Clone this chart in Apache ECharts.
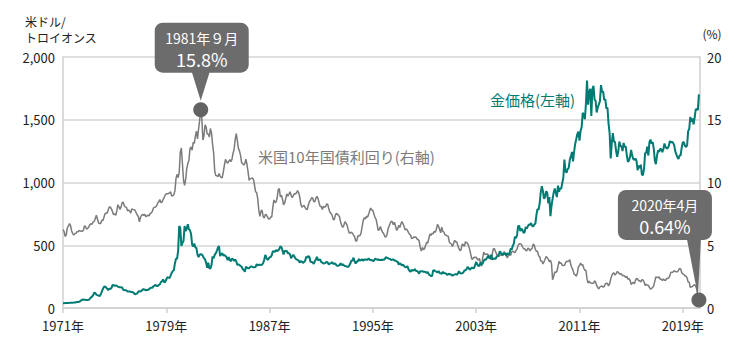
<!DOCTYPE html>
<html><head><meta charset="utf-8">
<script src="https://cdn.jsdelivr.net/npm/echarts@6/dist/echarts.min.js"></script>
<style>html,body{margin:0;padding:0;background:#fff}#c{width:740px;height:356px}</style>
</head><body><div id="c"></div>
<script>
// ---- data (monthly, Jan 1971 - Apr 2020) ----
const startYear = 1971;
const tickYears = [1971, 1979, 1987, 1995, 2003, 2011, 2019];
const leftTicks = [0, 500, 1000, 1500, 2000];
const rightTicks = [0, 5, 10, 15, 20];

// US 10-year Treasury yield (%)
const yield1970s = [
 6.24,6.11,5.70,5.83,6.39,6.52,6.73,6.58,6.14,5.93,5.81,5.93,
 5.95,6.08,6.07,6.19,6.13,6.11,6.11,6.21,6.55,6.48,6.28,6.36,
 6.46,6.64,6.71,6.67,6.85,6.90,7.13,7.40,7.09,6.79,6.73,6.74,
 6.99,6.96,7.21,7.51,7.58,7.54,7.81,8.04,8.04,7.90,7.68,7.43,
 7.50,7.39,7.73,8.23,8.06,7.86,8.06,8.40,8.43,8.14,8.05,8.00,
 7.74,7.79,7.73,7.56,7.90,7.86,7.83,7.77,7.59,7.41,7.29,6.87,
 7.21,7.39,7.46,7.37,7.46,7.28,7.33,7.40,7.34,7.52,7.58,7.69,
 7.96,8.03,8.04,8.15,8.35,8.46,8.64,8.41,8.42,8.64,8.81,9.01,
 9.10,9.10,9.12,9.18,9.25,8.91,8.95,9.03,9.33,10.30,10.65,10.39];
const yield1980s = [
 10.80,12.41,12.75,11.47,10.18,9.78,10.25,11.10,11.51,11.75,12.68,12.84,
 12.57,13.19,13.12,13.68,14.10,13.47,14.28,14.94,15.80,15.15,13.39,13.72,
 14.59,14.43,13.86,13.87,13.62,14.30,13.95,13.06,12.34,10.91,10.55,10.54,
 10.46,10.72,10.51,10.40,10.38,10.85,11.38,11.85,11.65,11.54,11.69,11.83,
 11.67,11.84,12.32,12.63,13.41,13.90,13.36,12.72,12.52,12.16,11.57,11.50,
 11.38,11.51,11.86,11.43,10.85,10.16,10.31,10.33,10.37,10.24,9.78,9.26,
 9.19,8.70,7.78,7.30,7.71,7.80,7.30,7.17,7.45,7.43,7.25,7.11,
 7.08,7.25,7.25,8.02,8.61,8.40,8.45,8.76,9.42,9.52,8.86,8.99,
 8.67,8.21,8.37,8.72,9.09,8.92,9.06,9.26,8.98,8.80,8.96,9.11,
 9.09,9.17,9.36,9.18,8.86,8.28,8.02,8.11,8.19,8.01,7.87,7.84];
const yield1990s = [
 8.21,8.47,8.59,8.79,8.76,8.48,8.47,8.75,8.89,8.72,8.39,8.08,
 8.09,7.85,8.11,8.04,8.07,8.28,8.27,7.90,7.65,7.53,7.42,7.09,
 7.03,7.34,7.54,7.48,7.39,7.26,6.84,6.59,6.42,6.59,6.87,6.77,
 6.60,6.26,5.98,5.97,6.04,5.96,5.81,5.68,5.36,5.33,5.72,5.77,
 5.75,5.97,6.48,6.97,7.18,7.10,7.30,7.24,7.46,7.74,7.96,7.81,
 7.78,7.47,7.20,7.06,6.63,6.17,6.28,6.49,6.20,6.04,5.93,5.71,
 5.65,5.81,6.27,6.51,6.74,6.91,6.87,6.64,6.83,6.53,6.20,6.30,
 6.58,6.42,6.69,6.89,6.71,6.49,6.22,6.30,6.21,6.03,5.88,5.81,
 5.54,5.57,5.65,5.64,5.65,5.50,5.46,5.34,4.81,4.53,4.83,4.65,
 4.72,5.00,5.23,5.18,5.54,5.90,5.79,5.94,5.92,6.11,6.03,6.28];
const yield2000s = [
 6.66,6.52,6.26,5.99,6.44,6.10,6.05,5.83,5.80,5.74,5.72,5.24,
 5.16,5.10,4.89,5.14,5.39,5.28,5.24,4.97,4.73,4.57,4.65,5.09,
 5.04,4.91,5.28,5.21,5.16,4.93,4.65,4.26,3.87,3.94,4.05,4.03,
 4.05,3.90,3.81,3.96,3.57,3.33,3.98,4.45,4.27,4.29,4.30,4.27,
 4.15,4.08,3.83,4.35,4.72,4.73,4.50,4.28,4.13,4.10,4.19,4.23,
 4.22,4.17,4.50,4.34,4.14,4.00,4.18,4.26,4.20,4.46,4.54,4.47,
 4.42,4.57,4.72,4.99,5.11,5.11,5.09,4.88,4.72,4.73,4.60,4.56,
 4.76,4.72,4.56,4.69,4.75,5.10,5.00,4.67,4.52,4.53,4.15,4.10,
 3.74,3.74,3.51,3.68,3.88,4.10,4.01,3.89,3.69,3.81,3.53,2.25,
 2.52,2.87,2.82,2.93,3.29,3.72,3.56,3.59,3.40,3.39,3.40,3.59];
const yield2010s = [
 3.73,3.69,3.73,3.85,3.42,3.20,3.01,2.70,2.65,2.54,2.76,3.29,
 3.39,3.58,3.41,3.46,3.17,3.00,3.00,2.30,1.98,2.15,2.01,1.98,
 1.97,1.97,2.17,2.05,1.80,1.62,1.53,1.68,1.72,1.75,1.65,1.72,
 1.91,1.98,1.96,1.76,1.93,2.30,2.58,2.74,2.81,2.62,2.72,2.90,
 2.86,2.71,2.72,2.71,2.56,2.60,2.54,2.42,2.53,2.30,2.33,2.21,
 1.88,1.98,2.04,1.94,2.20,2.36,2.32,2.17,2.17,2.07,2.26,2.24,
 2.09,1.78,1.89,1.81,1.81,1.64,1.50,1.56,1.63,1.76,2.14,2.49,
 2.43,2.42,2.48,2.30,2.30,2.19,2.32,2.21,2.20,2.36,2.35,2.40,
 2.58,2.86,2.84,2.87,2.98,2.91,2.89,2.89,3.00,3.15,3.12,2.83,
 2.71,2.68,2.57,2.53,2.40,2.07,2.06,1.63,1.70,1.71,1.81,1.86];
const yield2020s = [1.76,1.50,0.87,0.64];

// Gold price (USD / troy ounce)
const gold1970s = [
 37.9,38.7,38.9,39.0,40.5,40.1,41.0,42.7,42.0,42.5,42.9,43.5,
 45.7,48.3,48.3,49.0,54.6,62.1,65.7,67.0,65.5,64.9,62.9,63.9,
 65.1,74.2,84.4,90.5,102.0,122.5,120.2,106.8,103.0,100.1,94.8,106.7,
 129.0,150.2,168.4,172.2,163.4,154.1,143.0,154.6,151.8,158.8,181.7,183.8,
 176.3,179.6,178.2,170.0,167.0,164.3,165.2,163.0,144.1,142.9,142.4,139.3,
 131.6,131.0,132.6,128.2,127.1,125.8,117.9,109.3,114.1,116.0,130.6,133.9,
 132.3,136.4,148.3,149.3,146.6,140.8,143.2,144.9,149.3,158.5,162.4,160.5,
 173.2,178.2,183.7,175.4,176.2,183.1,188.6,206.2,212.6,227.2,206.0,207.8,
 227.3,245.7,242.1,239.2,257.6,279.1,294.7,300.8,355.2,392.0,392.0,455.1];
const gold1980s = [
 653,637,494,518,535,653,614,631,667,629,619,590,
 506,489,513,482,479,426,406,425,428,427,414,397,
 387,362,320,361,317,315,342,411,397,423,436,456,
 481,494,414,429,437,417,423,414,405,382,405,382,
 373,394,388,375,385,373,343,348,343,334,329,309,
 306,288,330,321,316,317,327,333,326,325,325,327,
 350,339,345,345,343,346,357,385,423,401,383,391,
 405,406,421,452,451,448,463,453,460,469,492,484,
 458,426,457,451,455,436,436,427,397,412,423,410,
 394,388,383,378,362,373,369,359,367,375,408,401];
const gold1990s = [
 415,407,368,367,363,352,372,387,408,380,384,386,
 366,362,355,357,360,368,362,347,354,357,366,353,
 354,353,341,336,337,343,357,340,349,339,334,333,
 330,327,338,354,377,378,401,371,355,370,371,391,
 377,381,389,376,387,386,384,385,395,384,383,383,
 375,376,392,389,385,387,383,383,384,383,387,387,
 405,400,397,393,391,382,386,387,379,378,371,369,
 345,358,349,340,345,334,326,325,333,311,296,290,
 304,298,301,310,294,296,287,273,294,292,294,288,
 288,287,280,287,268,261,255,254,299,300,292,290];
const gold2000s = [
 283,294,279,276,273,289,276,278,274,265,269,273,
 266,267,257,263,268,270,265,274,293,278,275,277,
 282,297,302,308,327,319,305,312,323,317,318,343,
 368,348,335,337,362,346,355,376,388,384,398,416,
 399,396,424,387,393,395,391,408,416,426,452,438,
 422,436,428,436,417,437,429,433,473,466,495,513,
 568,557,582,654,653,613,633,623,599,604,646,632,
 651,665,662,677,655,650,665,673,743,789,783,834,
 923,971,933,871,885,930,919,833,884,731,814,870,
 919,952,917,884,975,927,955,949,996,1040,1182,1088];
const gold2010s = [
 1078,1108,1116,1180,1208,1244,1169,1246,1307,1346,1386,1406,
 1333,1411,1439,1556,1536,1505,1628,1813,1620,1722,1746,1531,
 1744,1770,1662,1651,1558,1598,1622,1648,1776,1720,1726,1657,
 1664,1588,1598,1469,1394,1192,1314,1394,1327,1324,1253,1205,
 1244,1326,1292,1288,1250,1315,1285,1285,1217,1164,1176,1206,
 1260,1214,1187,1180,1191,1172,1098,1135,1115,1142,1062,1060,
 1111,1234,1237,1286,1215,1321,1342,1309,1323,1272,1178,1146,
 1212,1255,1245,1266,1266,1242,1267,1311,1283,1271,1275,1291,
 1331,1318,1325,1316,1298,1250,1224,1201,1187,1215,1217,1279,
 1320,1320,1292,1283,1296,1409,1427,1523,1485,1511,1464,1515];
const gold2020s = [1581,1586,1577,1702];

// annotations
const callouts = [
  {year: 1981, month: 9, value: 15.8, title: '1981年９月', text: '15.8%'},
  {year: 2020, month: 4, value: 0.64, title: '2020年4月', text: '0.64%'}
];
const goldLabel = '金価格(左軸)';
const yieldLabel = '米国10年国債利回り(右軸)';
const unitLeft = ['米ドル/', 'トロイオンス'];
const unitRight = '(%)';

// ---- build ----
const yieldAll = [].concat(yield1970s, yield1980s, yield1990s, yield2000s, yield2010s, yield2020s);
const goldAll = [].concat(gold1970s, gold1980s, gold1990s, gold2000s, gold2010s, gold2020s);
const yieldData = yieldAll.map((v, i) => [i, v]);
const goldData = goldAll.map((v, i) => [i, v]);
const tickIdx = tickYears.map(y => (y - startYear) * 12);

const FONT = '"Noto Sans CJK JP", "Noto Sans", sans-serif';
const TEAL = '#007b74';
const GREY = '#7b7b7b';
const BOX = '#6c6c6c';

const chart = echarts.init(document.getElementById('c'), null, {renderer: 'svg'});
const fmtComma = v => String(v).replace(/\B(?=(\d{3})+(?!\d))/g, ',');

chart.setOption({
  animation: false,
  textStyle: {fontFamily: FONT},
  grid: {left: 63, right: 40, top: 57, bottom: 48, containLabel: false},
  xAxis: {
    type: 'value', min: 0, max: 592,
    axisLine: {show: true, lineStyle: {color: '#cfcfcf', width: 1.5}},
    axisTick: {show: true, length: 5, lineStyle: {color: '#cfcfcf', width: 1.5}, customValues: tickIdx},
    axisLabel: {customValues: tickIdx, color: '#222', fontSize: 13, lineHeight: 14, margin: 10, fontFamily: FONT,
      formatter: v => (startYear + Math.round(v / 12)) + '年'},
    splitLine: {show: false}
  },
  yAxis: [{
    type: 'value', min: 0, max: 2000, interval: 500, position: 'left',
    axisLine: {show: true, lineStyle: {color: '#cfcfcf', width: 1.5}},
    axisTick: {show: false},
    axisLabel: {color: '#222', fontSize: 13, lineHeight: 14, margin: 8, fontFamily: FONT, formatter: fmtComma},
    splitLine: {show: true, lineStyle: {color: '#d4d4d4', width: 1.5}}
  }, {
    type: 'value', min: 0, max: 20, interval: 5, position: 'right',
    axisLine: {show: true, lineStyle: {color: '#cfcfcf', width: 1.5}},
    axisTick: {show: false},
    axisLabel: {color: '#222', fontSize: 13, lineHeight: 14, margin: 7, fontFamily: FONT},
    splitLine: {show: false}
  }],
  series: [{
    name: yieldLabel, type: 'line', yAxisIndex: 1, data: yieldData,
    showSymbol: false, symbol: 'none', z: 2,
    lineStyle: {color: GREY, width: 1.5}
  }, {
    name: goldLabel, type: 'line', yAxisIndex: 0, data: goldData,
    showSymbol: false, symbol: 'none', z: 3,
    lineStyle: {color: TEAL, width: 2}
  }]
});

// callout dots + boxes, anchored at data points
const graphics = [];
callouts.forEach((c, k) => {
  const idx = (c.year - startYear) * 12 + (c.month - 1);
  const p = chart.convertToPixel({xAxisIndex: 0, yAxisIndex: 1}, [idx, c.value]);
  const px = p[0], py = p[1];
  let bx, by, bw = 94, bh = 50, tri;
  if (k === 0) {
    bx = px - 46; by = py - 87;
    tri = [[px - 9, by + bh - 1], [px + 9, by + bh - 1], [px, py - 9]];
  } else {
    bx = px - 81; by = py - 110;
    tri = [[px - 12, by + bh - 1], [px + 2, by + bh - 1], [px - 1, py - 4]];
  }
  graphics.push({type: 'rect', shape: {x: bx, y: by, width: bw, height: bh, r: 8}, style: {fill: BOX}, z: 10});
  graphics.push({type: 'polygon', shape: {points: tri}, style: {fill: BOX}, z: 10});
  graphics.push({type: 'circle', shape: {cx: px, cy: py, r: 7.5}, style: {fill: '#636363'}, z: 11});
  graphics.push({type: 'text', z: 12, style: {text: c.title, x: bx + bw / 2, y: by + 15, fill: '#fff',
    font: '14px ' + FONT, textAlign: 'center', textVerticalAlign: 'middle'}});
  graphics.push({type: 'text', z: 12, style: {text: c.text, x: bx + bw / 2, y: by + 36, fill: '#fff',
    font: '18px ' + FONT, textAlign: 'center', textVerticalAlign: 'middle'}});
});
graphics.push({type: 'text', z: 12, style: {text: unitLeft[0], x: 25, y: 21, fill: '#222',
  font: '12px ' + FONT, textAlign: 'left', textVerticalAlign: 'middle'}});
graphics.push({type: 'text', z: 12, style: {text: unitLeft[1], x: 25, y: 37, fill: '#222',
  font: '12px ' + FONT, textAlign: 'left', textVerticalAlign: 'middle'}});
graphics.push({type: 'text', z: 12, style: {text: unitRight, x: 712, y: 33, fill: '#222',
  font: '12px ' + FONT, textAlign: 'center', textVerticalAlign: 'middle'}});
graphics.push({type: 'text', z: 12, style: {text: goldLabel, x: 490, y: 99, fill: TEAL,
  font: '15px ' + FONT, textAlign: 'left', textVerticalAlign: 'middle'}});
graphics.push({type: 'text', z: 12, style: {text: yieldLabel, x: 258, y: 156, fill: GREY,
  font: '15px ' + FONT, textAlign: 'left', textVerticalAlign: 'middle'}});
chart.setOption({graphic: graphics});
</script>
</body></html>
